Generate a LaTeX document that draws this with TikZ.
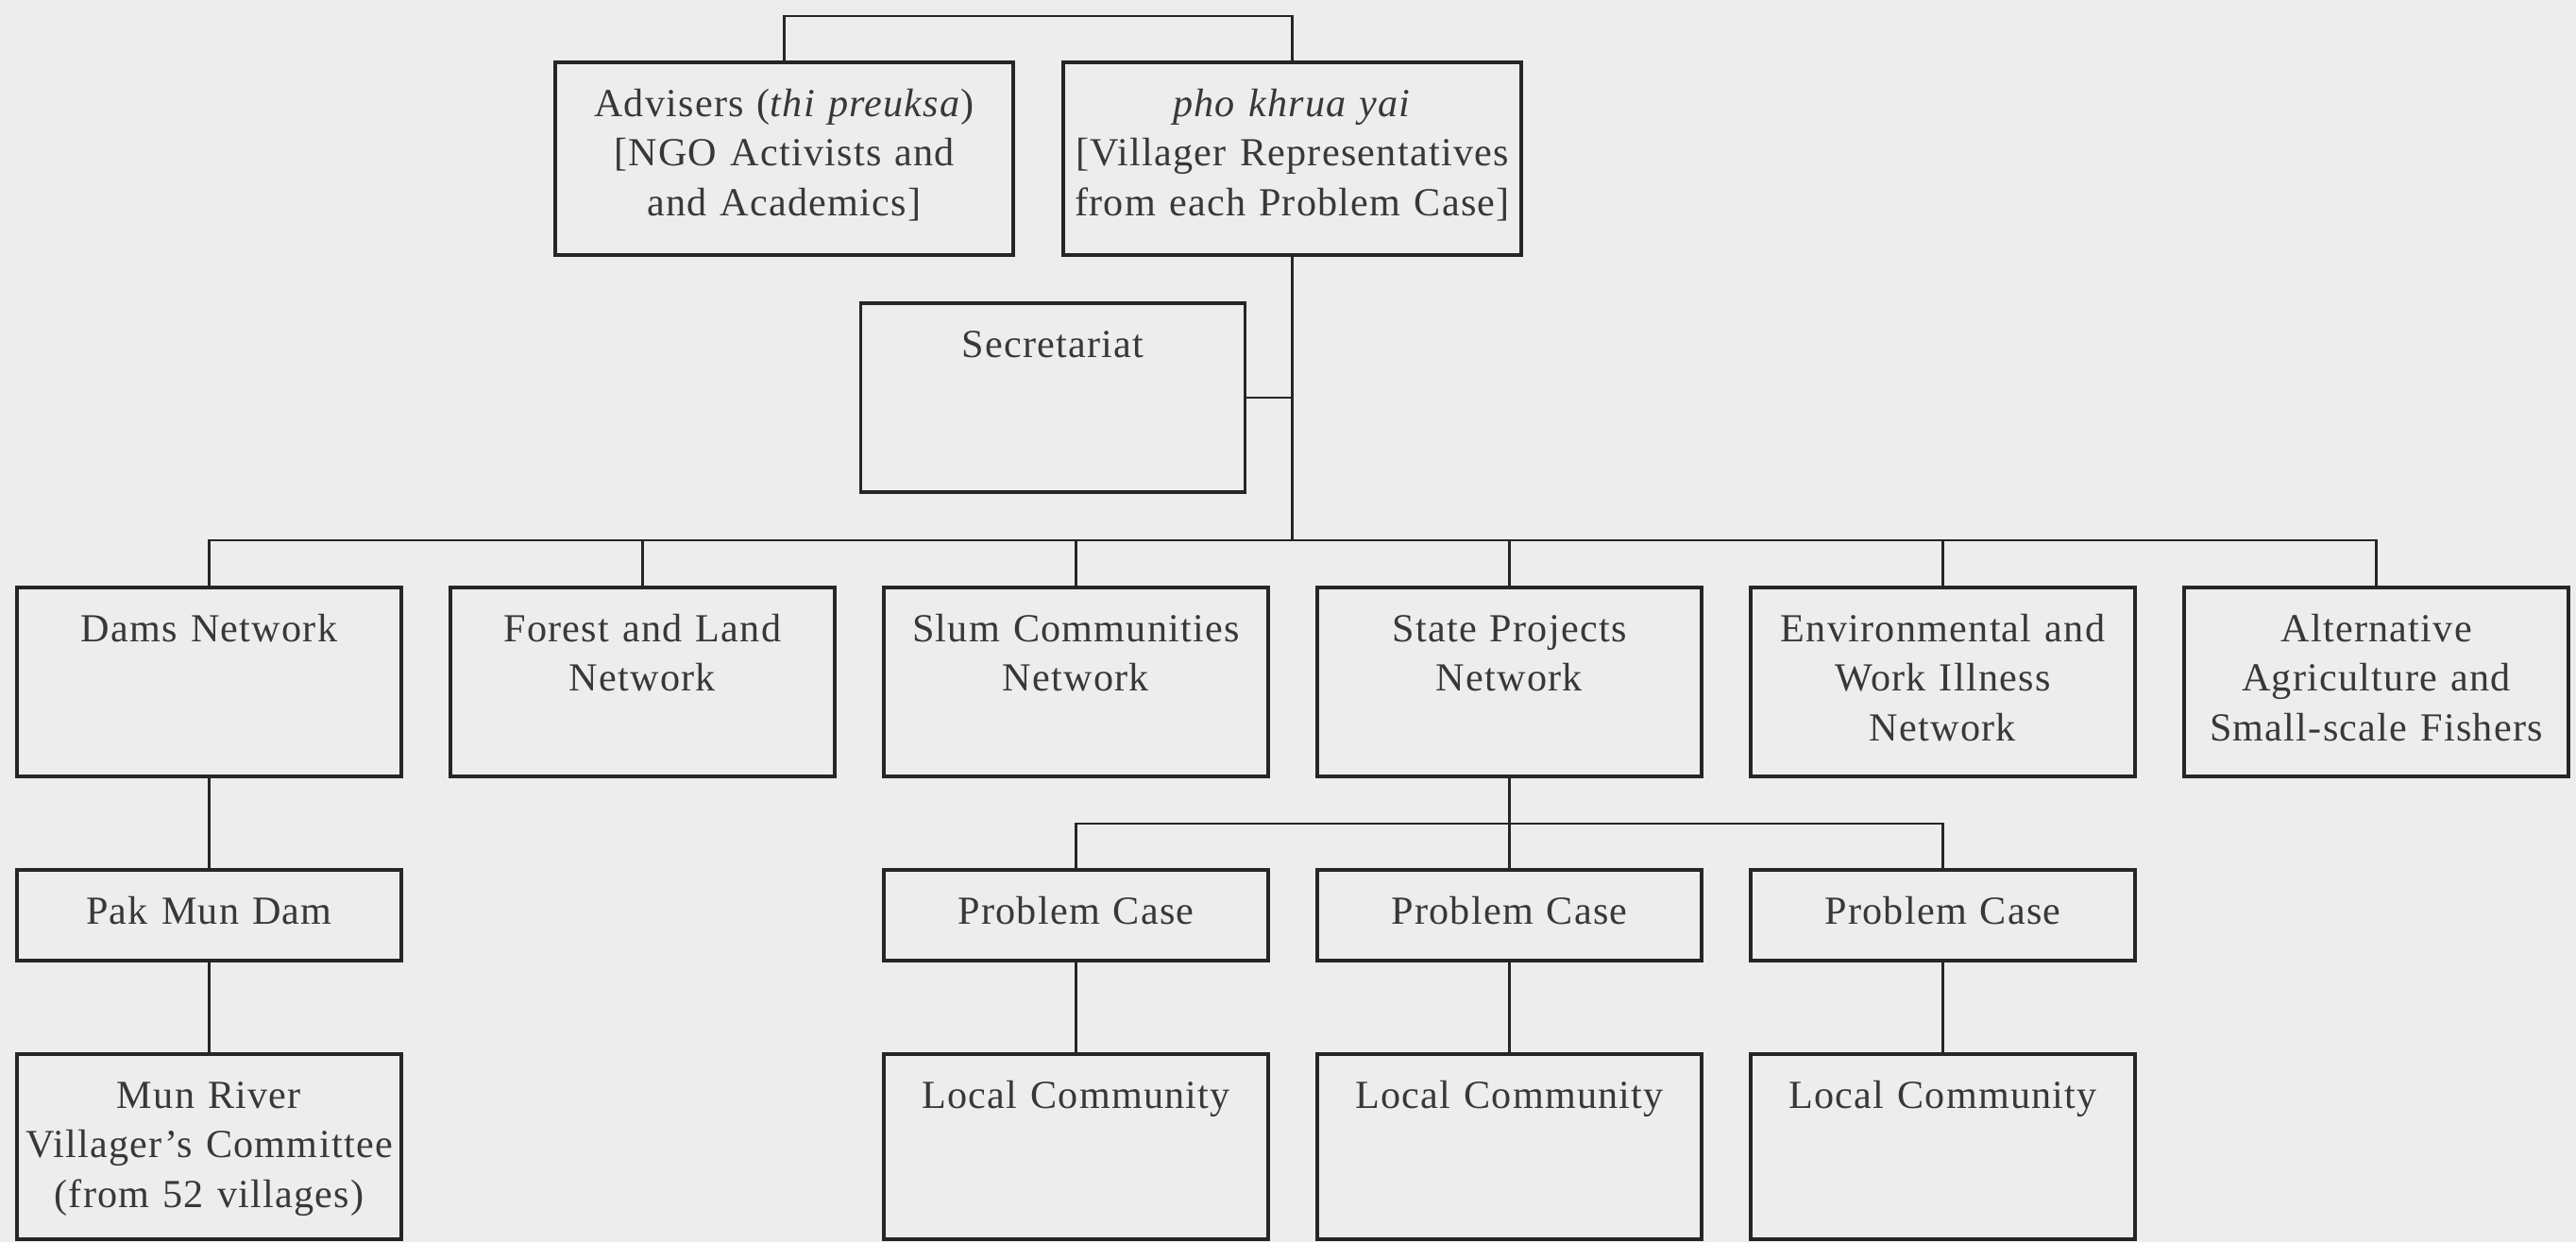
\documentclass[tikz,border=0pt]{standalone}
\usepackage{fontspec}
\setmainfont{Liberation Serif}[LetterSpace=3]
\usetikzlibrary{positioning}
\definecolor{paper}{gray}{0.93}
\definecolor{ink}{gray}{0.22}
\begin{document}
\begin{tikzpicture}[node distance=0.99cm and 0.52cm, font=\fontsize{12}{15}\selectfont, text=ink]
    \useasboundingbox (0,0) rectangle (27.28,-13.15);
    \fill[paper] (0,0) rectangle (27.28,-13.15);
    \tikzstyle{unit} = [rectangle, draw=black!85, line width=1.1pt, align=center, inner sep=0pt, outer sep=0pt, text height=0.57cm]
    \tikzstyle{council} = [unit, text width=4.85cm, text depth=1.47cm]
    \tikzstyle{network} = [unit, text width=4.07cm, text depth=1.43cm]
    \tikzstyle{casebox} = [unit, text width=4.07cm, text depth=0.39cm]
    \tikzstyle{local} = [unit, text width=4.07cm, text depth=1.39cm]
    \tikzstyle{link} = [draw=black!85, line width=0.8pt]
    % top level
    \node (adv) [council, anchor=north west] at (5.88,-0.66) {Advisers (\textit{thi preuksa})\\ {[}NGO Activists and\\ and Academics]};
    \node (pho) [council, right=0.53cm of adv] {\textit{pho khrua yai}\\ {[}Villager Representatives\\ from each Problem Case]};
    \node (sec) [network, below left=0.51cm and 0.5cm of pho.south] {Secretariat};
    % networks
    \node (dams) [network, anchor=north west] at (0.18,-6.22) {Dams Network};
    \node (forest) [network, right=of dams] {Forest and Land\\ Network};
    \node (slum) [network, right=of forest] {Slum Communities\\ Network};
    \node (state) [network, right=of slum] {State Projects\\ Network};
    \node (env) [network, right=of state] {Environmental and\\ Work Illness\\ Network};
    \node (alt) [network, right=of env] {Alternative\\ Agriculture and\\ Small-scale Fishers};
    % problem cases
    \node (pakmun) [casebox, below=of dams] {Pak Mun Dam};
    \node (munriver) [local, below=of pakmun] {Mun River\\ Villager's Committee\\ (from 52 villages)};
    \node (case2) [casebox, below=of state] {Problem Case};
    \node (case1) [casebox, left=of case2] {Problem Case};
    \node (case3) [casebox, right=of case2] {Problem Case};
    \foreach \i in {1,2,3}
        \node (comm\i) [local, below=of case\i] {Local Community};
    % connectors
    \draw [link] (adv.north) -- ++(0,0.49) -| (pho.north);
    \draw [link] (pho.south) -- ([yshift=0.5cm]pho.south |- dams.north);
    \draw [link] (sec.east) -- (sec.east -| pho.south);
    \draw [link] (dams.north) -- ++(0,0.5) -| (alt.north);
    \foreach \n in {forest,slum,state,env}
        \draw [link] (\n.north) -- ++(0,0.5);
    \draw [link] (dams) -- (pakmun);
    \draw [link] (pakmun) -- (munriver);
    \draw [link] (state) -- (case2);
    \draw [link] (case1.north) -- ++(0,0.49) -| (case3.north);
    \foreach \i in {1,2,3}
        \draw [link] (case\i) -- (comm\i);
\end{tikzpicture}
\end{document}
